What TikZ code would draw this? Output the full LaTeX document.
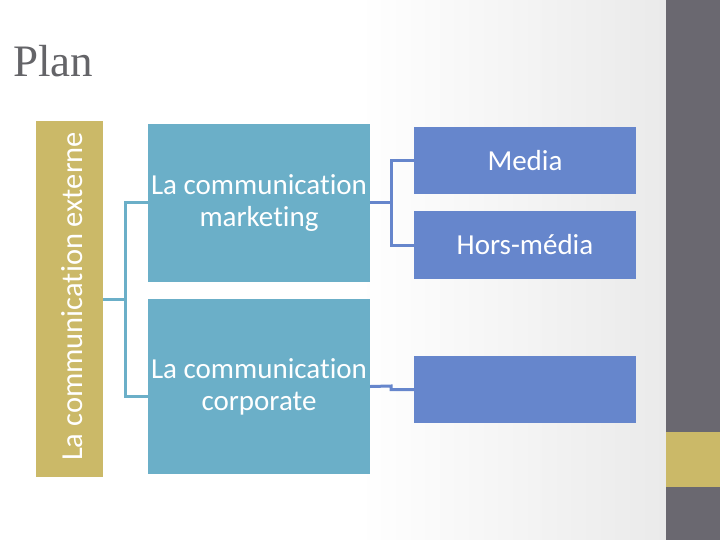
\documentclass[tikz,border=0pt]{standalone}
\usepackage{fontspec}
\setmainfont{Liberation Serif}
\newfontfamily\calfont[Ligatures=CommonOff]{Carlito}
\definecolor{goldc}{RGB}{203,185,104}
\definecolor{lblue}{RGB}{107,175,200}
\definecolor{dblue}{RGB}{102,134,204}
\definecolor{barg}{RGB}{106,104,112}
\definecolor{titleg}{RGB}{100,100,104}
\definecolor{bgg}{RGB}{234,234,234}
\tikzset{
  box/.style={draw=none, inner sep=0pt, align=center, text=white,
    font=\calfont\fontsize{29}{32}\selectfont},
  midbox/.style={box, fill=lblue, minimum width=222pt},
  rbox/.style={box, fill=dblue, minimum width=222pt, minimum height=67pt},
  lconn/.style={draw=lblue, line width=3pt},
  rconn/.style={draw=dblue, line width=3pt}
}
\begin{document}
\begin{tikzpicture}[x=1pt,y=-1pt]
\useasboundingbox (0,0) rectangle (720,540);
\fill[white] (0,0) rectangle (360,540);
\shade[left color=white, right color=bgg] (359,0) rectangle (666,540);
\fill[barg] (666,0) rectangle (720,540);
\fill[goldc] (666,432) rectangle (720,487);
\node[anchor=base west, inner sep=0pt, text=titleg, font=\fontsize{45}{50}\selectfont] (title) at (13,77) {Plan};
\node[box, fill=goldc, minimum width=67pt, minimum height=356pt] (ext) at (69.5,299) {};
\node[box, rotate=90, font=\calfont\fontsize{30.5}{34}\selectfont] (extlabel) at (72.5,296.5) {La communication externe};
\node[midbox, minimum height=158pt] (mkt) at (259,203) {La communication\\marketing};
\node[midbox, minimum height=175pt] (corp) at (259,386.5) {La communication\\corporate};
\node[rbox] (media) at (525,160.5) {Media};
\node[rbox] (hors) at (525,245) {Hors-média};
\node[rbox] (empty) at (525,389.5) {};
\coordinate (lj) at (125,299);
\coordinate (rj) at (391,203);
\draw[lconn] (ext.east) -- (lj);
\draw[lconn] (mkt.west) -- (mkt.west -| lj) -- (lj |- 0,396) -- (corp.west |- 0,396);
\draw[rconn] (mkt.east) -- (rj);
\draw[rconn] (media.west) -| (rj) |- (hors.west);
\draw[rconn] (corp.east) -- (391,386) -- (391,389.5) -- (empty.west);
\end{tikzpicture}
\end{document}
